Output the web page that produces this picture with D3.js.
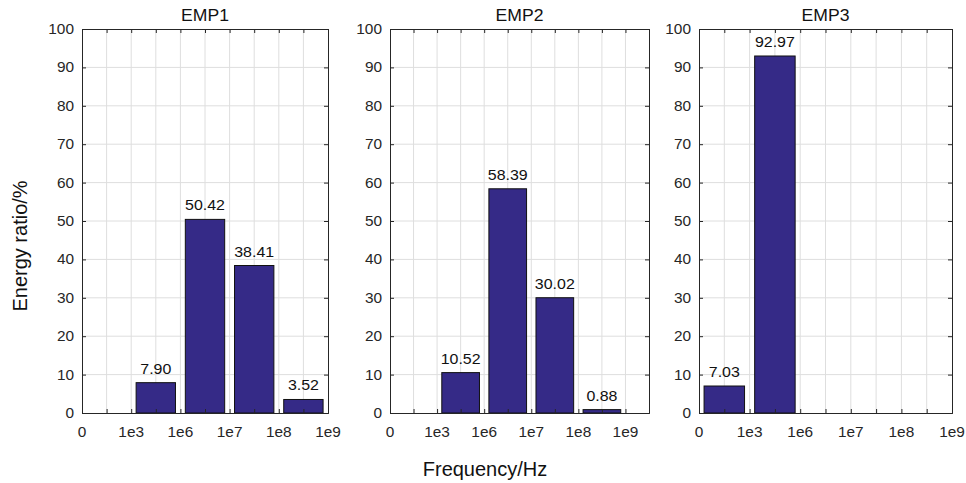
<!DOCTYPE html>
<html>
<head>
<meta charset="utf-8">
<script src="https://cdn.jsdelivr.net/npm/d3@7"></script>
<style>
  html, body { margin: 0; padding: 0; background: #fff; }
  svg { display: block; font-family: "Liberation Sans", Arial, sans-serif; }
</style>
</head>
<body>
<svg id="chart" width="966" height="483"></svg>
<script>
// ---- data ----
const titles = ["EMP1", "EMP2", "EMP3"];
const bins = ["0-1e3", "1e3-1e6", "1e6-1e7", "1e7-1e8", "1e8-1e9"];
const xTickLabels = ["0", "1e3", "1e6", "1e7", "1e8", "1e9"];
const yTicks = [0, 10, 20, 30, 40, 50, 60, 70, 80, 90, 100];
const emp1 = [0, 7.90, 50.42, 38.41, 3.52];
const emp2 = [0, 10.52, 58.39, 30.02, 0.88];
const emp3 = [7.03, 92.97, 0, 0, 0];
const xUnitMax = [10, 11, 10];

const series = [emp1, emp2, emp3];

// ---- layout ----
const W = 966, H = 483;
const panelX = [[82, 328], [390, 649], [699, 952]];
const plotTop = 29, plotBottom = 413;
const barColor = "#352a87";
const axisColor = "#262626";
const gridColor = "#dedede";
const stretch = 1.1;

const svg = d3.select("#chart");
svg.append("rect").attr("width", W).attr("height", H).attr("fill", "#fff");

function stext(g, x, y, str, size, anchor, color) {
  return g.append("text")
    .attr("transform", `translate(${x},${y}) scale(${stretch},1)`)
    .attr("text-anchor", anchor)
    .attr("font-size", size)
    .attr("fill", color)
    .text(str);
}

series.forEach((vals, p) => {
  const [x0, x1] = panelX[p];
  const xmax = xUnitMax[p];
  const x = d3.scaleLinear().domain([0, xmax]).range([x0, x1]);
  const y = d3.scaleLinear().domain([0, 100]).range([plotBottom, plotTop]);
  const g = svg.append("g");
  const units = d3.range(0, xmax + 1);

  // grid
  g.selectAll(".gx").data(units.slice(1, -1)).enter().append("line")
    .attr("x1", d => x(d)).attr("x2", d => x(d))
    .attr("y1", plotTop).attr("y2", plotBottom)
    .attr("stroke", gridColor).attr("stroke-width", 1);
  g.selectAll(".gy").data(yTicks.slice(1, -1)).enter().append("line")
    .attr("x1", x0).attr("x2", x1)
    .attr("y1", d => y(d)).attr("y2", d => y(d))
    .attr("stroke", gridColor).attr("stroke-width", 1);

  // bars
  const bw = x(1.6) - x(0);
  g.selectAll(".bar").data(vals).enter().append("rect")
    .attr("x", (d, i) => x(2 * i + 1) - bw / 2)
    .attr("width", bw)
    .attr("y", d => y(d))
    .attr("height", d => y(0) - y(d))
    .attr("fill", barColor)
    .attr("stroke", d => d > 0 ? "#111" : "#999")
    .attr("stroke-width", 1);

  // data labels
  vals.forEach((v, i) => {
    if (v > 0) stext(g, x(2 * i + 1), y(v) - 9, v.toFixed(2), 14.5, "middle", "#111");
  });

  // axes (ticks inward)
  const axB = d3.axisBottom(x).tickValues(units).tickSize(-4).tickFormat("");
  const axT = d3.axisTop(x).tickValues(units).tickSize(-4).tickFormat("");
  const axL = d3.axisLeft(y).tickValues(yTicks).tickSize(-4).tickFormat("");
  const axR = d3.axisRight(y).tickValues(yTicks).tickSize(-4).tickFormat("");
  [[axB, `translate(0,${plotBottom})`], [axT, `translate(0,${plotTop})`],
   [axL, `translate(${x0},0)`], [axR, `translate(${x1},0)`]].forEach(([ax, tr]) => {
    const a = g.append("g").attr("transform", tr).call(ax);
    a.select(".domain").attr("stroke", axisColor).attr("stroke-width", 1);
    a.selectAll(".tick line").attr("stroke", axisColor);
  });

  // tick labels
  yTicks.forEach(t => stext(g, x0 - 8, y(t) + 5, String(t), 14, "end", axisColor));
  xTickLabels.forEach((lab, k) => stext(g, x(2 * k), plotBottom + 24, lab, 14, "middle", axisColor));

  // title
  stext(g, (x0 + x1) / 2, 21, titles[p], 16, "middle", "#111");
});

// axis labels
svg.append("text")
  .attr("x", 485).attr("y", 476)
  .attr("text-anchor", "middle").attr("font-size", 20).attr("fill", "#111")
  .text("Frequency/Hz");
svg.append("text")
  .attr("transform", "translate(27,246) rotate(-90)")
  .attr("text-anchor", "middle").attr("font-size", 20).attr("fill", "#111")
  .text("Energy ratio/%");
</script>
</body>
</html>
